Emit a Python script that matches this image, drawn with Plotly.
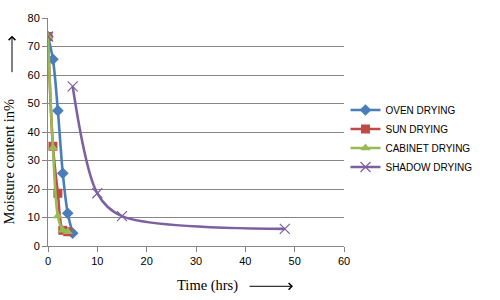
import plotly.graph_objects as go

time_hrs = [0, 1, 2, 3, 4, 5, 10, 15, 48]
oven = [73.5, 65.5, 47.5, 25.5, 11.5, 4.5, None, None, None]
sun = [73.5, 35, 18.5, 5.5, 5, None, None, None, None]
cabinet = [73.5, 34.5, 10.5, 5.5, 5, None, None, None, None]
shadow = [73.5, None, None, None, None, 56, 18.5, 10.5, 6]

series = [
    ("OVEN DRYING", oven, "#4A7EBB", "diamond", 9),
    ("SUN DRYING", sun, "#BE4B48", "square", 9),
    ("CABINET DRYING", cabinet, "#98B954", "triangle-up", 9),
    ("SHADOW DRYING", shadow, "#7D60A0", "x-thin", 10),
]

fig = go.Figure()
for name, vals, color, sym, size in series:
    marker = dict(symbol=sym, size=size, color=color)
    if sym == "x-thin":
        marker["line"] = dict(color=color, width=1.2)
    fig.add_trace(go.Scatter(
        x=time_hrs, y=vals, name=name, mode="lines+markers",
        line=dict(color=color, width=2.6, shape="spline", smoothing=0.9),
        marker=marker, connectgaps=False,
    ))

fig.update_layout(
    width=500, height=300,
    margin=dict(l=48, r=156, t=14, b=54),
    paper_bgcolor="white", plot_bgcolor="white",
    font=dict(family="Liberation Sans, Arial, sans-serif", size=11, color="#000000"),
    legend=dict(x=1.005, y=0.66, xanchor="left", yanchor="top",
                font=dict(size=10, color="#000000"), tracegroupgap=0,
                itemwidth=30, bgcolor="rgba(0,0,0,0)"),
    showlegend=True,
)
fig.update_xaxes(range=[0, 60], dtick=10, showgrid=False, showline=True,
                 linecolor="#868686", linewidth=1, ticks="outside", ticklen=5,
                 tickcolor="#868686", zeroline=False, tickfont=dict(size=11),
                 ticklabeloverflow="allow")
fig.update_yaxes(range=[0, 80], dtick=10, showgrid=True, gridcolor="#868686",
                 gridwidth=1, showline=True, linecolor="#868686", linewidth=1,
                 ticks="outside", ticklen=5, tickcolor="#868686", zeroline=False,
                 tickfont=dict(size=11), ticklabeloverflow="allow")

serif = dict(family="Liberation Serif, Times New Roman, serif", size=14.5, color="#000000")
fig.add_annotation(xref="paper", yref="paper", x=(9 - 48) / 296, y=(246 - 160) / 232,
                   text="Moisture content in%", textangle=-90, showarrow=False,
                   font=serif, xanchor="center", yanchor="middle")
fig.add_annotation(xref="paper", yref="paper", x=(207 - 48) / 296, y=-(286 - 246) / 232,
                   text="Time (hrs)", showarrow=False, font=serif,
                   xanchor="center", yanchor="middle")
# decorative arrows
fig.add_annotation(xref="paper", yref="paper", x=(12 - 48) / 296, y=(246 - 32) / 232,
                   ax=0, ay=38, text="", showarrow=True, arrowhead=4,
                   arrowsize=1.3, arrowwidth=1, arrowcolor="#000000")
fig.add_annotation(xref="paper", yref="paper", x=(293 - 48) / 296, y=-(287 - 246) / 232,
                   ax=-45, ay=0, text="", showarrow=True, arrowhead=4,
                   arrowsize=1.3, arrowwidth=1, arrowcolor="#000000")

fig.write_html("out.html", config={"displayModeBar": False},
               post_script="document.body.style.margin='0';")
